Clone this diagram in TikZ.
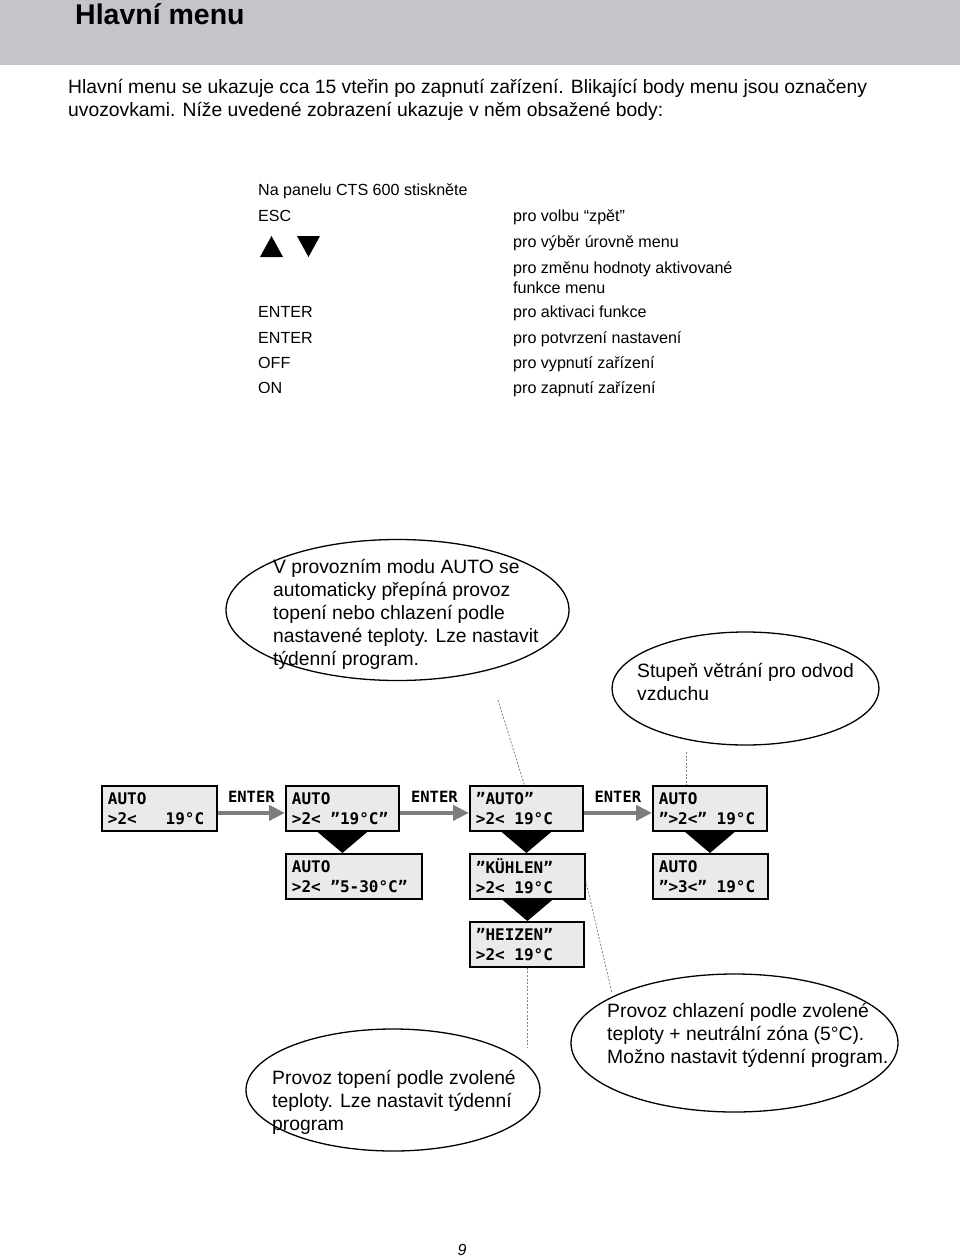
\documentclass[tikz,border=0pt]{standalone}
\usepackage{fontspec}
\setmainfont{Liberation Sans}
\newfontfamily\lcd{DejaVu Sans Mono}
\newcommand\lsp{\hspace*{0.602em}}
\usetikzlibrary{shapes.geometric,arrows.meta,calc}
\definecolor{headgray}{RGB}{196,197,201}
\definecolor{boxfill}{RGB}{234,234,234}
\definecolor{arrowgray}{RGB}{125,125,125}
\definecolor{dashgray}{RGB}{130,130,130}
\begin{document}
\begin{tikzpicture}[x=1pt,y=-1pt,
  body/.style={anchor=base west,inner sep=0pt,font=\fontsize{19.3}{23}\selectfont},
  panel/.style={anchor=base west,inner sep=0pt,font=\fontsize{16.1}{20}\selectfont},
  ell/.style={draw,ellipse,line width=1.3pt,inner sep=0pt},
  lcdbox/.style={draw,line width=1.8pt,fill=boxfill,anchor=north west,minimum height=45pt,
     inner xsep=6pt,inner ysep=0pt,align=left,font=\lcd\bfseries\fontsize{16}{20}\selectfont},
  lbl/.style={inner sep=0pt,font=\lcd\bfseries\fontsize{15.5}{18}\selectfont},
  garrow/.style={draw=arrowgray,line width=4pt,-{Triangle[length=16pt,width=15pt,fill=arrowgray]}},
  dashc/.style={draw=dashgray,line width=0.8pt,dash pattern=on 2pt off 1.6pt},
  funnel/.style={fill=black}]
\useasboundingbox (0,0) rectangle (960,1260);
\fill[headgray] (0,0) rectangle (960,65);
\node[anchor=base west,inner sep=0pt,font=\fontsize{28.5}{30}\selectfont\bfseries] (title) at (75,25) {Hlavní menu};
\node[body] (p1) at (68,94) {Hlavní menu se ukazuje cca 15 vteřin po zapnutí zařízení. Blikající body menu jsou označeny};
\node[body] (p2) at (68,117) {uvozovkami. Níže uvedené zobrazení ukazuje v něm obsažené body:};
% panel
\node[panel] (k0) at (258,196) {Na panelu CTS 600 stiskněte};
\node[panel] (k1) at (258,222) {ESC};
\node[panel] (k3) at (258,317) {ENTER};
\node[panel] (k4) at (258,343) {ENTER};
\node[panel] (k5) at (258,368) {OFF};
\node[panel] (k6) at (258,393) {ON};
\fill (260,257) -- (283,257) -- (271.5,236) -- cycle;
\fill (297,236) -- (320,236) -- (308.5,257) -- cycle;
\node[panel] (d1) at (513,222) {pro volbu “zpět”};
\node[panel] (d2) at (513,247) {pro výběr úrovně menu};
\node[panel] (d3) at (513,273) {pro změnu hodnoty aktivované};
\node[panel] (d3b) at (513,293) {funkce menu};
\node[panel] (d4) at (513,317) {pro aktivaci funkce};
\node[panel] (d5) at (513,343) {pro potvrzení nastavení};
\node[panel] (d6) at (513,368) {pro vypnutí zařízení};
\node[panel] (d7) at (513,393) {pro zapnutí zařízení};
% ellipses
\node[ell,minimum width=343pt,minimum height=141pt] (e1) at (397.5,610) {};
\node[body] at (273,573) {V provozním modu AUTO se};
\node[body] at (273,596) {automaticky přepíná provoz};
\node[body] at (273,619) {topení nebo chlazení podle};
\node[body] at (273,642) {nastavené teploty. Lze nastavit};
\node[body] at (273,665) {týdenní program.};
\node[ell,minimum width=267pt,minimum height=113pt] (e2) at (745.5,688.5) {};
\node[body] at (637,677) {Stupeň větrání pro odvod};
\node[body] at (637,700) {vzduchu};
\node[ell,minimum width=294pt,minimum height=122pt] (e3) at (393,1090) {};
\node[body] at (272,1084) {Provoz topení podle zvolené};
\node[body] at (272,1107) {teploty. Lze nastavit týdenní};
\node[body] at (272,1130) {program};
\node[ell,minimum width=327pt,minimum height=138pt] (e4) at (734.5,1043) {};
\node[body] at (607,1017) {Provoz chlazení podle zvolené};
\node[body] at (607,1040) {teploty + neutrální zóna (5°C).};
\node[body] at (607,1063) {Možno nastavit týdenní program.};
% boxes
\node[lcdbox,text width=103pt] (b1) at (101,785) {AUTO\\>2<\lsp\lsp\lsp19°C};
\node[lcdbox,text width=101pt] (b2) at (285,785) {AUTO\\>2<\lsp”19°C”};
\node[lcdbox,text width=101pt] (b3) at (469,785) {”AUTO”\\>2<\lsp19°C};
\node[lcdbox,text width=102pt] (b4) at (652,785) {AUTO\\”>2<”\lsp19°C};
\node[lcdbox,text width=124pt] (b5) at (285,853) {AUTO\\>2<\lsp”5-30°C”};
\node[lcdbox,text width=103pt] (b6) at (469,853) {”KÜHLEN”\\>2<\lsp19°C};
\node[lcdbox,text width=103pt] (b7) at (652,853) {AUTO\\”>3<”\lsp19°C};
\node[lcdbox,text width=102pt] (b8) at (469,921) {”HEIZEN”\\>2<\lsp19°C};
% arrows
\draw[garrow] ([yshift=-4.5pt]b1.east) -- ([yshift=-4.5pt]b2.west);
\draw[garrow] ([yshift=-4.5pt]b2.east) -- ([yshift=-4.5pt]b3.west);
\draw[garrow] ([yshift=-4.5pt]b3.east) -- ([yshift=-4.5pt]b4.west);
\node[lbl] (l1) at ([yshift=11.5pt]$(b1.east)!0.5!(b2.west)$) {ENTER};
\node[lbl] (l2) at ([yshift=11.5pt]$(b2.east)!0.5!(b3.west)$) {ENTER};
\node[lbl] (l3) at ([yshift=11.5pt]$(b3.east)!0.5!(b4.west)$) {ENTER};
% funnels
\fill[funnel] ([xshift=-25pt]b2.south) -- ([xshift=25pt]b2.south) -- (b2.south |- b5.north) -- cycle;
\fill[funnel] ([xshift=-25pt]b3.south) -- ([xshift=25pt]b3.south) -- (b3.south |- b6.north) -- cycle;
\fill[funnel] ([xshift=-25pt]b4.south) -- ([xshift=25pt]b4.south) -- (b4.south |- b7.north) -- cycle;
\fill[funnel] ([xshift=-25pt]b6.south) -- ([xshift=25pt]b6.south) -- (b6.south |- b8.north) -- cycle;
% dashed leaders
\coordinate (c1) at (498,700);
\coordinate (c2) at (686,752);
\coordinate (c3) at (527,1048);
\coordinate (c4) at (612,993);
\draw[dashc] (c1) -- ([xshift=-2pt]b3.north);
\draw[dashc] (c2) -- (c2 |- b4.north);
\draw[dashc] (b8.south) -- (b8.south |- c3);
\draw[dashc] ([yshift=-4.5pt]b6.east) -- (c4);
\node[inner sep=0pt,font=\fontsize{16}{18}\selectfont\itshape] (pg) at (462,1250) {9};
\end{tikzpicture}
\end{document}
